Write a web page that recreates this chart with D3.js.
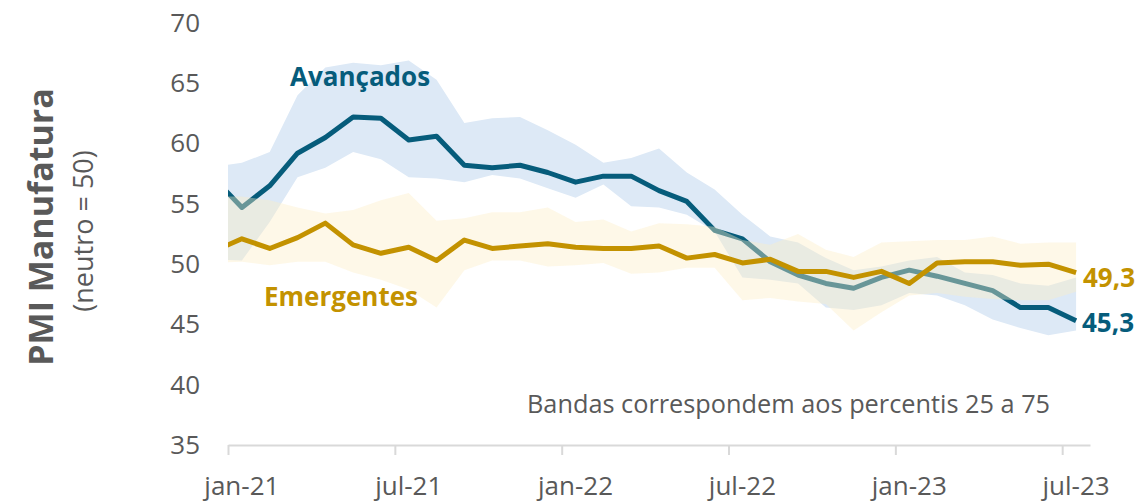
<!DOCTYPE html>
<html>
<head>
<meta charset="utf-8">
<script src="https://cdn.jsdelivr.net/npm/d3@7"></script>
<style>
  body { margin: 0; background: #fff; }
  svg { display: block; font-family: "Open Sans", sans-serif; }
</style>
</head>
<body>
<script>
// months: dez-20 is only there so the lines run in from the left edge
var months = ['dez-20',
  'jan-21','fev-21','mar-21','abr-21','mai-21','jun-21','jul-21','ago-21','set-21','out-21','nov-21','dez-21',
  'jan-22','fev-22','mar-22','abr-22','mai-22','jun-22','jul-22','ago-22','set-22','out-22','nov-22','dez-22',
  'jan-23','fev-23','mar-23','abr-23','mai-23','jun-23','jul-23'];

var tickLabels = ['jan-21', 'jul-21', 'jan-22', 'jul-22', 'jan-23', 'jul-23'];
var yTicks = [35, 40, 45, 50, 55, 60, 65, 70];

// Avançados: median and 25/75 percentiles
var avancados = [57.1, 54.7, 56.5, 59.2, 60.5, 62.2, 62.1, 60.3, 60.6, 58.2, 58.0, 58.2, 57.6, 56.8, 57.3, 57.3,
  56.1, 55.2, 52.8, 52.1, 50.2, 49.1, 48.4, 48.0, 48.9, 49.5, 49.0, 48.4, 47.8, 46.4, 46.4, 45.3];
var avancadosP75 = [58.1, 58.4, 59.3, 64.0, 66.3, 66.7, 66.5, 66.9, 65.3, 61.7, 62.1, 62.2, 61.1, 59.9, 58.4, 58.8,
  59.6, 57.6, 56.2, 54.1, 52.3, 51.8, 50.5, 49.5, 49.8, 50.3, 50.6, 49.3, 49.1, 48.4, 48.2, 48.9];
var avancadosP25 = [50.4, 50.3, 53.5, 57.2, 58.0, 59.3, 58.7, 57.2, 57.1, 56.8, 57.4, 57.1, 56.3, 55.5, 56.6, 54.8,
  54.7, 54.1, 52.7, 48.9, 48.7, 48.4, 46.4, 46.2, 46.6, 47.6, 47.4, 46.6, 45.4, 44.7, 44.1, 44.5];

// Emergentes
var emergentes = [51.1, 52.1, 51.3, 52.2, 53.4, 51.6, 50.9, 51.4, 50.3, 52.0, 51.3, 51.5, 51.7, 51.4, 51.3, 51.3,
  51.5, 50.5, 50.8, 50.1, 50.4, 49.4, 49.4, 48.9, 49.4, 48.4, 50.1, 50.2, 50.2, 49.9, 50.0, 49.3];
var emergentesP75 = [55.6, 55.6, 55.3, 54.7, 54.2, 54.5, 55.3, 55.9, 53.6, 53.8, 54.3, 54.3, 54.7, 53.5, 53.7, 52.7,
  53.4, 53.3, 53.1, 52.0, 51.6, 52.5, 51.2, 50.6, 51.8, 51.9, 52.0, 52.0, 52.3, 51.7, 51.8, 51.8];
var emergentesP25 = [50.1, 50.2, 49.9, 50.2, 50.2, 49.3, 48.7, 47.9, 46.4, 49.5, 50.3, 50.3, 49.8, 49.9, 50.1, 49.2,
  49.3, 49.7, 49.7, 47.0, 47.2, 46.9, 46.7, 44.5, 46.0, 47.4, 47.6, 47.3, 47.1, 47.0, 47.0, 47.7];

var width = 1140, height = 502;
var blue = '#065C7B', gold = '#C39200', grey = '#595959';

var svg = d3.select('body').append('svg')
  .attr('width', width)
  .attr('height', height);

// index 0 = jan-21, each month gets one slot between the ticks
var x = d3.scaleLinear().domain([-0.5, 30.5]).range([228, 1090]);
var y = d3.scaleLinear().domain([35, 70]).range([445, 23]);

function rows(mid, lo, hi) {
  return months.map(function(m, i) {
    return { month: m, i: i - 1, v: mid[i], lo: lo[i], hi: hi[i] };
  });
}
var adv = rows(avancados, avancadosP25, avancadosP75);
var emg = rows(emergentes, emergentesP25, emergentesP75);

svg.append('clipPath').attr('id', 'plot')
  .append('rect').attr('x', 228).attr('y', 0).attr('width', 862).attr('height', height);

var band = d3.area()
  .x(function(d) { return x(d.i); })
  .y0(function(d) { return y(d.lo); })
  .y1(function(d) { return y(d.hi); });

var line = d3.line()
  .x(function(d) { return x(d.i); })
  .y(function(d) { return y(d.v); });

var plot = svg.append('g').attr('clip-path', 'url(#plot)');

plot.append('path').datum(adv)
  .attr('d', band)
  .attr('fill', '#DDE9F6');

plot.append('path').datum(adv)
  .attr('d', line)
  .attr('fill', 'none')
  .attr('stroke', blue)
  .attr('stroke-width', 5)
  .attr('stroke-linejoin', 'round');

// emerging band sits over the blue line, so it turns it teal
plot.append('path').datum(emg)
  .attr('d', band)
  .attr('fill', 'rgb(252,238,198)')
  .attr('fill-opacity', 0.4);

plot.append('path').datum(emg)
  .attr('d', line)
  .attr('fill', 'none')
  .attr('stroke', gold)
  .attr('stroke-width', 5)
  .attr('stroke-linejoin', 'round');

// x axis: ticks between months, labels on the month
var xAxis = svg.append('g')
  .attr('transform', 'translate(0,445)')
  .call(d3.axisBottom(x)
    .tickValues(d3.range(-0.5, 30, 6))
    .tickFormat('')
    .tickSize(10)
    .tickSizeOuter(0));
xAxis.selectAll('path, line').attr('stroke', '#D9D9D9').attr('stroke-width', 2);

svg.append('g').selectAll('text')
  .data(tickLabels)
  .enter().append('text')
  .attr('x', function(d) { return x(months.indexOf(d) - 1); })
  .attr('y', 495)
  .attr('text-anchor', 'middle')
  .attr('fill', grey)
  .attr('font-size', 26)
  .text(function(d) { return d; });

// y axis: labels only
var yAxis = svg.append('g')
  .attr('transform', 'translate(200,0)')
  .call(d3.axisLeft(y).tickValues(yTicks).tickSize(0).tickPadding(0));
yAxis.select('.domain').remove();
yAxis.selectAll('text')
  .attr('fill', grey)
  .attr('font-size', 26)
  .attr('font-family', '"Open Sans", sans-serif');

// axis titles
svg.append('text')
  .attr('transform', 'translate(53,227) rotate(-90)')
  .attr('text-anchor', 'middle')
  .attr('font-size', 34)
  .attr('font-weight', 'bold')
  .attr('fill', grey)
  .text('PMI Manufatura');

svg.append('text')
  .attr('transform', 'translate(93,231) rotate(-90)')
  .attr('text-anchor', 'middle')
  .attr('font-size', 27)
  .attr('fill', grey)
  .text('(neutro = 50)');

// series names
svg.append('text')
  .attr('x', 290).attr('y', 86)
  .attr('font-size', 26).attr('font-weight', 'bold')
  .attr('fill', blue)
  .text('Avançados');

svg.append('text')
  .attr('x', 264).attr('y', 306)
  .attr('font-size', 26).attr('font-weight', 'bold')
  .attr('fill', gold)
  .text('Emergentes');

// last values
var fmt = function(v) { return d3.format('.1f')(v).replace('.', ','); };
svg.append('text')
  .attr('x', 1083).attr('y', 287)
  .attr('font-size', 26).attr('font-weight', 'bold')
  .attr('fill', gold)
  .text(fmt(emergentes[emergentes.length - 1]));

svg.append('text')
  .attr('x', 1082).attr('y', 332)
  .attr('font-size', 26).attr('font-weight', 'bold')
  .attr('fill', blue)
  .text(fmt(avancados[avancados.length - 1]));

svg.append('text')
  .attr('x', 527).attr('y', 413)
  .attr('font-size', 25.3)
  .attr('fill', grey)
  .text('Bandas correspondem aos percentis 25 a 75');
</script>
</body>
</html>
